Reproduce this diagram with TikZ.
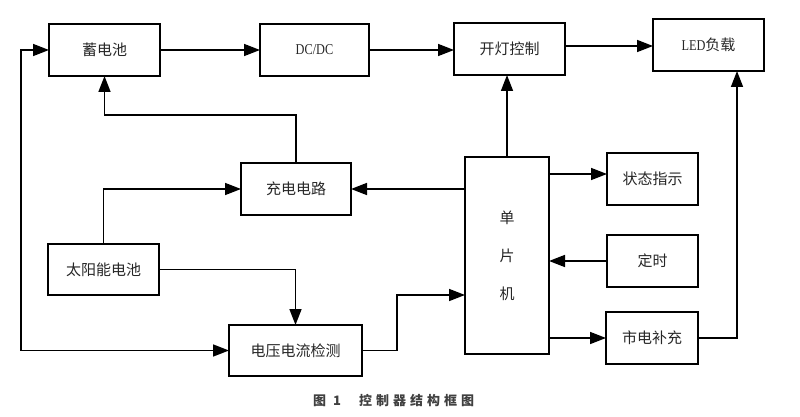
\documentclass[tikz,border=0pt]{standalone}
\usepackage{fontspec}
\setmainfont{Liberation Serif}
\newfontfamily\cjk{Noto Sans CJK SC}
\usetikzlibrary{arrows.meta,calc}
\begin{document}
\begin{tikzpicture}[x=1pt,y=-1pt,
  box/.style={draw,line width=1.6pt,inner sep=0pt,outer sep=0pt,font=\fontsize{15}{17}\selectfont\cjk,text=black!85},
  tip/.tip={Triangle[length=16pt,width=12pt]},
  conn/.style={line width=1.6pt,-tip},
  plain/.style={line width=1.6pt}]
\useasboundingbox (0,0) rectangle (800,417);
% boxes
\node[box,minimum width=111pt,minimum height=52pt] (bat) at (104.5,50) {蓄电池};
\node[box,minimum width=109pt,minimum height=52pt] (dcdc) at (314.5,50) {\rmfamily\scalebox{0.82}[1]{DC/DC}};
\node[box,minimum width=111pt,minimum height=52pt] (kd) at (509.5,49) {开灯控制};
\node[box,minimum width=111pt,minimum height=52pt] (led) at (708.5,45) {\rmfamily\scalebox{0.82}[1]{LED}\cjk 负载};
\node[box,minimum width=110pt,minimum height=52pt] (cd) at (296,189) {充电电路};
\node[box,minimum width=111pt,minimum height=51pt] (solar) at (103.5,269.5) {太阳能电池};
\node[box,minimum width=133pt,minimum height=51pt] (vi) at (295.5,350.5) {电压电流检测};
\node[box,minimum width=84pt,minimum height=197pt,align=center] (mcu) at (507,255.5) {单\\[21pt]片\\[21pt]机};
\node[box,minimum width=91pt,minimum height=52pt] (zt) at (652.5,179) {状态指示};
\node[box,minimum width=91pt,minimum height=52pt] (ds) at (652.5,261) {定时};
\node[box,minimum width=92pt,minimum height=52pt] (sd) at (652,338) {市电补充};
% helper coordinates
\coordinate (t1) at (296,115);
\coordinate (lx) at (21,200);
\coordinate (j) at (397,295);
\coordinate (ledin) at (737,71);
% connectors
\draw[conn] (bat.east) -- (dcdc.west);
\draw[conn] (dcdc.east) -- (dcdc.east -| kd.west);
\draw[conn] (kd.east |- 0,46) -- (led.west |- 0,46);
\draw[conn] (mcu.north) -- (mcu.north |- kd.south);
\draw[conn] (sd.east) -| (ledin);
\draw[conn] (mcu.east |- 0,174) -- (zt.west |- 0,174);
\draw[conn] (ds.west) -- (ds.west -| mcu.east);
\draw[conn] (mcu.east |- sd.west) -- (sd.west);
\draw[conn] (mcu.west |- cd.east) -- (cd.east);
\draw[conn] (cd.north) -- (t1) -| (bat.south);
\draw[conn] (solar.north) |- (cd.west);
\draw[conn] (solar.east) -| (vi.north);
\draw[conn] (vi.east) -| (j) -- (j -| mcu.west);
\draw[line width=1.6pt,tip-tip] (bat.west) -| (lx) |- (vi.west);
% caption
\node[font=\fontsize{13}{15}\selectfont\cjk\bfseries,text=black!75,anchor=west,inner sep=0pt] (cap) at (313,401)
  {图\hspace{7pt}1\hspace{18pt}控\hspace{4pt}制\hspace{4pt}器\hspace{4pt}结\hspace{4pt}构\hspace{4pt}框\hspace{4pt}图};
\end{tikzpicture}
\end{document}
